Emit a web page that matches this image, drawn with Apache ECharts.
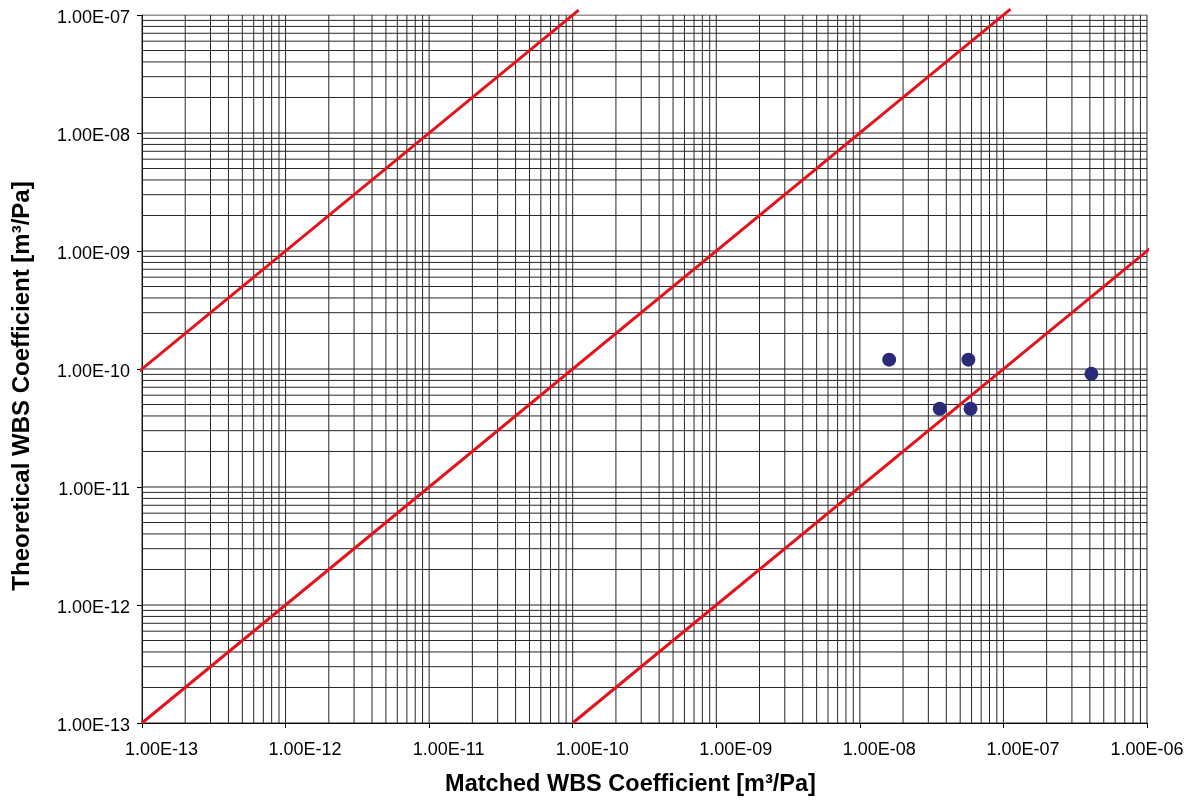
<!DOCTYPE html>
<html>
<head>
<meta charset="utf-8">
<title>WBS Coefficient</title>
<script src="https://cdn.jsdelivr.net/npm/echarts@6/dist/echarts.min.js"></script>
<style>
  html, body { margin: 0; padding: 0; background: #fff; }
  #chart { width: 1197px; height: 807px; }
</style>
</head>
<body>
<div id="chart"></div>
<script>
// Matched vs theoretical WBS coefficients [m³/Pa]
const matched     = [1.6e-8, 3.6e-8, 5.7e-8, 5.9e-8, 4.1e-7];
const theoretical = [1.2e-10, 4.6e-11, 1.2e-10, 4.6e-11, 9.1e-11];

// Reference lines y = factor * x, with their x start/end
const ratioFactors = [1000, 1, 0.001];
const ratioXRange  = [[9.2e-14, 1.1e-10], [1e-13, 1.12e-7], [1e-10, 1.08e-6]];

// Axis decades (exponents) and the per-decade gridline multipliers
const xDecades = [-13, -12, -11, -10, -9, -8, -7, -6];
const yDecades = [-13, -12, -11, -10, -9, -8, -7];
const gridMultipliers = [1, 2, 3, 4, 5, 6, 7, 8, 9];

function gridValues(decades) {
  const out = [];
  decades.forEach((e, i) => {
    const base = Math.pow(10, e);
    if (i === decades.length - 1) { out.push(base); return; }
    gridMultipliers.forEach(m => out.push(m * base));
  });
  return out;
}

function sciLabel(v) {
  const e = Math.round(Math.log10(v));
  const m = v / Math.pow(10, e);
  return m.toFixed(2) + 'E' + (e < 0 ? '-' : '+') + String(Math.abs(e)).padStart(2, '0');
}

const xMin = Math.pow(10, xDecades[0]);
const xMax = Math.pow(10, xDecades[xDecades.length - 1]);
const yMin = Math.pow(10, yDecades[0]);
const yMax = Math.pow(10, yDecades[yDecades.length - 1]);

const points = matched.map((x, i) => [x, theoretical[i]]);

// One thin line series per logarithmic gridline
const gridLineStyle = { color: '#262626', width: 1, type: 'solid' };
const gridSeries = []
  .concat(gridValues(xDecades).map(v => [[v, yMin], [v, yMax]]))
  .concat(gridValues(yDecades).map(v => [[xMin, v], [xMax, v]]))
  .map(seg => ({
    type: 'line',
    data: seg,
    symbol: 'none',
    showSymbol: false,
    silent: true,
    z: 1,
    lineStyle: gridLineStyle
  }));

const ratioSeries = ratioFactors.map((f, i) => ({
  type: 'line',
  data: ratioXRange[i].map(x => [x, x * f]),
  showSymbol: false,
  symbol: 'none',
  clip: false,
  silent: true,
  z: 3,
  lineStyle: { color: '#e3121b', width: 3 }
}));

const labelFont = 'Liberation Sans, Arial, sans-serif';

const chart = echarts.init(document.getElementById('chart'), null, { renderer: 'canvas' });
chart.setOption({
  animation: false,
  backgroundColor: '#ffffff',
  grid: { left: 142, right: 50, top: 15, bottom: 84, containLabel: false },
  xAxis: {
    type: 'log',
    logBase: 10,
    min: xMin,
    max: xMax,
    splitNumber: xDecades.length - 1,
    name: 'Matched WBS Coefficient [m³/Pa]',
    nameLocation: 'middle',
    nameGap: 50,
    nameTextStyle: {
      fontFamily: labelFont,
      fontWeight: 'bold', fontSize: 23.5, color: '#000',
      padding: [0, 28, 0, 0]
    },
    axisLine: { show: true, lineStyle: { color: '#000', width: 1 } },
    axisTick: { show: true, length: 5, inside: false, lineStyle: { color: '#000' } },
    axisLabel: {
      // labels sit a little right of their ticks; the last one stays inside the canvas
      formatter: v => (Math.abs(Math.log10(v / xMax)) < 1e-6 ? '{last|' : '{tick|') + sciLabel(v) + '}',
      fontFamily: labelFont, fontSize: 18, color: '#000', margin: 18,
      rich: {
        tick: { fontFamily: labelFont, fontSize: 18, color: '#000', padding: [0, 0, 0, 39] },
        last: { fontFamily: labelFont, fontSize: 18, color: '#000', padding: [0, 0, 0, 0] }
      }
    },
    splitLine: { show: false },
    minorTick: { show: false }
  },
  yAxis: {
    type: 'log',
    logBase: 10,
    min: yMin,
    max: yMax,
    splitNumber: yDecades.length - 1,
    name: 'Theoretical WBS Coefficient [m³/Pa]',
    nameLocation: 'middle',
    nameGap: 108,
    nameTextStyle: {
      fontFamily: labelFont,
      fontWeight: 'bold', fontSize: 24, color: '#000',
      padding: [0, 34, 0, 0]
    },
    axisLine: { show: true, lineStyle: { color: '#000', width: 1 } },
    axisTick: { show: true, length: 5, inside: false, lineStyle: { color: '#000' } },
    axisLabel: {
      // labels sit slightly below their gridlines
      formatter: v => '{tick|' + sciLabel(v) + '}',
      fontFamily: labelFont, fontSize: 18, color: '#000', margin: 12,
      rich: {
        tick: { fontFamily: labelFont, fontSize: 18, color: '#000', padding: [7, 0, 0, 0] }
      }
    },
    splitLine: { show: false },
    minorTick: { show: false }
  },
  series: gridSeries.concat(ratioSeries).concat([
    {
      type: 'scatter',
      data: points,
      symbol: 'circle',
      symbolSize: 14,
      z: 5,
      itemStyle: { color: '#2b2a7a', opacity: 1 }
    }
  ])
});
</script>
</body>
</html>
